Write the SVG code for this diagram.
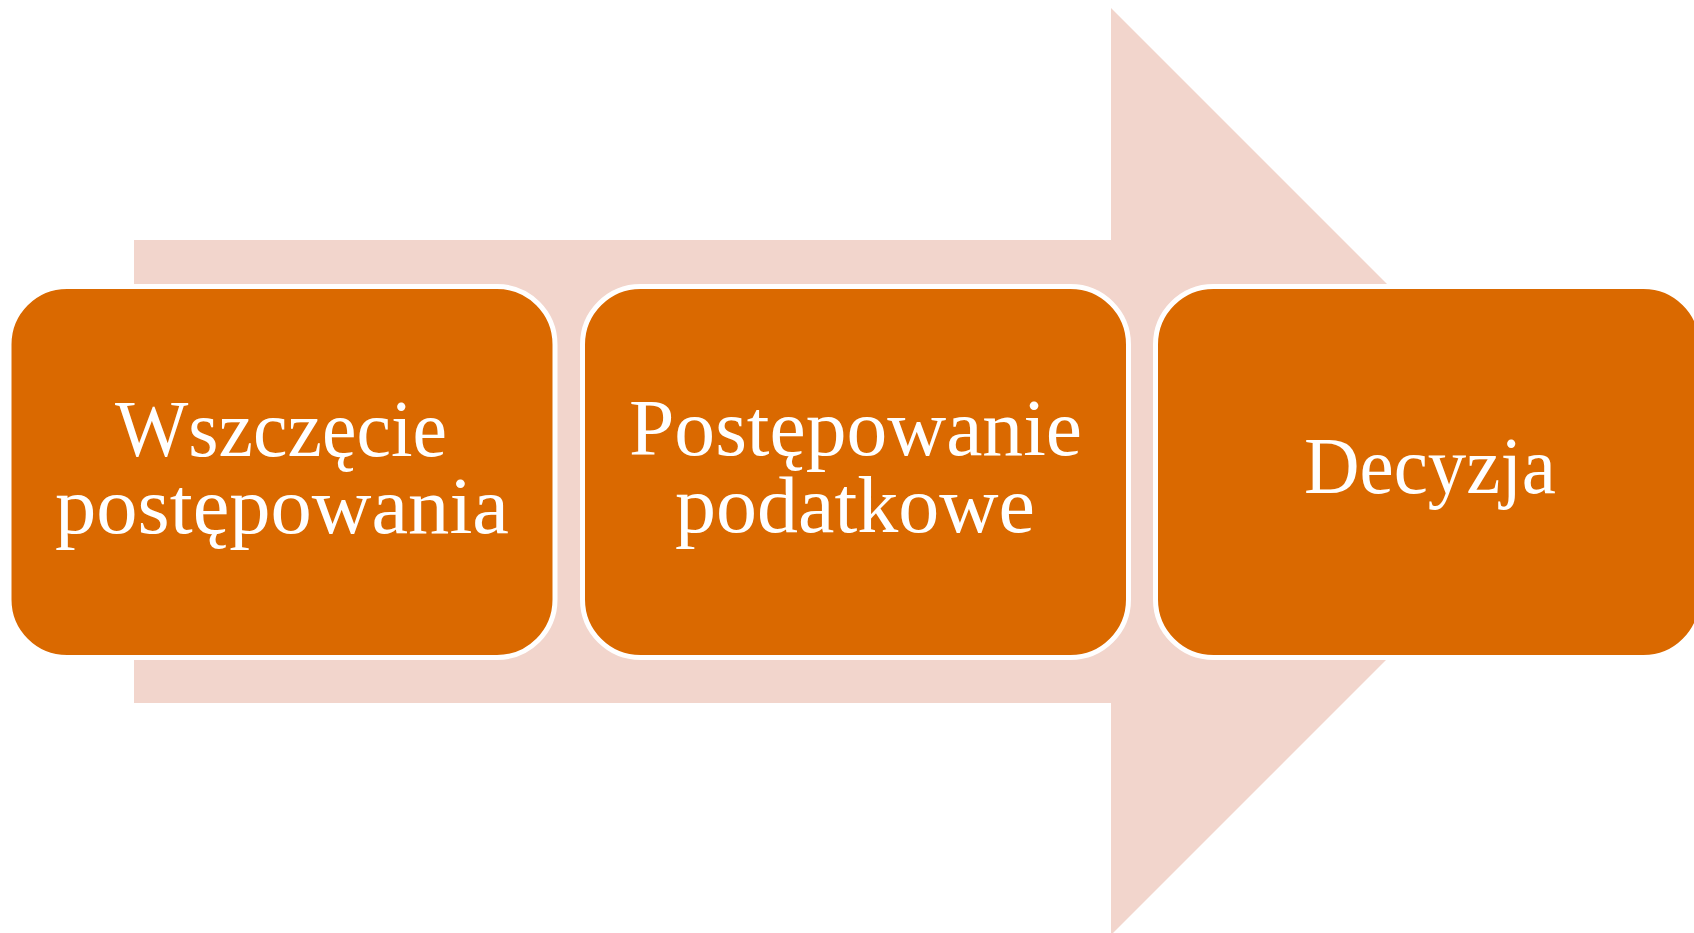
<svg xmlns="http://www.w3.org/2000/svg" width="1694" height="933" viewBox="0 0 1694 933">
<style>
.box{fill:#DA6900;stroke:#FFFFFF;stroke-width:5}
.lbl{font-family:"Liberation Serif","DejaVu Serif",serif;font-size:80px;fill:#FFFFFF;text-anchor:middle}
</style>
<rect width="1694" height="933" fill="#FFFFFF"/>
<g id="arrow">
<polygon points="134,240 1111,240 1111,8 1574.5,471.5 1111,935 1111,703 134,703" fill="#F2D5CC"/>
</g>
<g id="connectors"></g>
<g id="node1">
<rect class="box" x="9" y="286.5" width="546" height="371" rx="58" ry="58"/>
<text class="lbl" x="281" y="456" textLength="332" lengthAdjust="spacingAndGlyphs">Wszczęcie</text>
<text class="lbl" x="282" y="533" textLength="454" lengthAdjust="spacingAndGlyphs">postępowania</text>
</g>
<g id="node2">
<rect class="box" x="582.5" y="286.5" width="546" height="371" rx="58" ry="58"/>
<text class="lbl" x="855.5" y="455" textLength="453" lengthAdjust="spacingAndGlyphs">Postępowanie</text>
<text class="lbl" x="855" y="532" textLength="360" lengthAdjust="spacingAndGlyphs">podatkowe</text>
</g>
<g id="node3">
<rect class="box" x="1155.5" y="286.5" width="546" height="371" rx="58" ry="58"/>
<text class="lbl" x="1430" y="493" textLength="252" lengthAdjust="spacingAndGlyphs">Decyzja</text>
</g>
</svg>
